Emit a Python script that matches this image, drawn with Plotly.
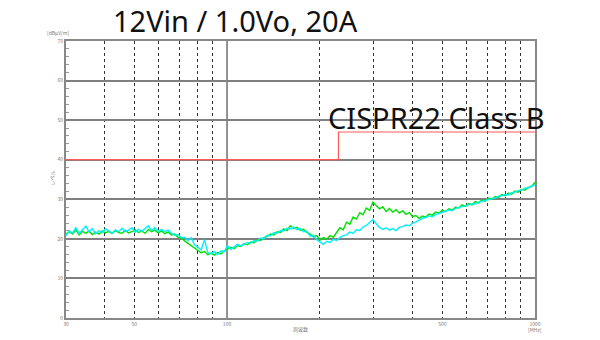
import plotly.graph_objects as go

freq_mhz = [30, 30.8, 31.5, 32.3, 33.1, 33.9, 34.8, 35.6, 36.5, 37.4, 38.4, 39.3, 40.3, 41.3, 42.3, 43.4, 44.5,
            45.6, 46.7, 47.9, 49.1, 50.3, 51.6, 52.9, 54.2, 55.5, 56.9, 58.3, 59.8, 61.3, 62.8, 64.4, 66.0, 67.6,
            69.3, 71.1, 72.8, 74.7, 76.5, 78.4, 80.4, 82.4, 84.5, 86.6, 88.7, 91.0, 93.2, 95.6, 98.0, 100.4, 102.9,
            105.5, 108.1, 110.8, 113.6, 116.5, 119.4, 122.3, 125.4, 128.6, 131.8, 135.1, 138.4, 141.9, 145.4, 149.1,
            152.8, 156.6, 160.5, 164.6, 168.7, 172.9, 177.2, 181.6, 186.2, 190.8, 195.6, 200.5, 205.5, 210.7, 216.0,
            221.4, 226.9, 232.5, 238.4, 244.3, 250.4, 256.7, 263.1, 269.7, 276.4, 283.3, 290.4, 297.7, 305.1, 312.7,
            320.6, 328.6, 336.8, 345.2, 353.8, 362.7, 371.8, 381.1, 390.6, 400.3, 410.4, 420.6, 431.1, 441.9, 453.0,
            464.3, 475.9, 487.8, 500.0, 512.5, 525.3, 538.4, 551.9, 565.7, 579.8, 594.3, 609.2, 624.4, 640.0, 656.0,
            672.4, 689.3, 706.5, 724.2, 742.3, 760.8, 779.8, 799.3, 819.3, 839.8, 860.8, 882.3, 904.4, 927.0, 950.2,
            973.9, 1000]

green_dbuv = [21.3, 21.8, 21.2, 22.3, 21.0, 21.9, 21.4, 22.0, 21.1, 21.7, 21.2, 22.0, 21.5, 21.9, 21.3, 22.1, 21.6,
              21.4, 22.2, 21.5, 21.8, 22.3, 21.6, 22.0, 21.4, 22.4, 21.8, 22.2, 21.5, 22.0, 21.3, 21.7, 21.0, 21.2,
              20.4, 20.2, 19.5, 18.9, 18.3, 17.8, 17.2, 16.5, 16.8, 16.0, 16.4, 15.9, 16.6, 16.2, 17.0, 17.4, 17.9,
              17.5, 18.3, 18.1, 18.8, 18.5, 19.2, 19.0, 19.8, 19.6, 20.3, 20.6, 21.2, 21.0, 21.8, 21.6,
              22.5, 22.1, 23.3, 22.6, 22.9, 22.2, 22.4, 21.6, 21.2, 20.5, 20.8, 19.7, 20.3, 19.9, 20.8,
              20.4, 21.6, 22.8, 22.3, 24.2, 23.7, 25.5, 25.0, 26.6, 26.1, 27.8, 27.2, 29.3, 28.4, 27.6,
              28.1, 26.9, 27.7, 26.8, 27.4, 26.5, 27.1, 26.2, 26.7, 25.6, 25.9, 25.2, 25.8, 25.5, 26.3,
              26.0, 26.8, 26.5, 27.2, 26.9, 27.6, 27.3, 28.0, 27.8, 28.6, 28.2, 28.9, 28.6, 29.4, 29.1,
              29.8, 29.5, 30.3, 30.0, 30.7, 30.4, 31.2, 30.9, 31.6, 31.3, 32.1, 31.8, 32.5, 32.3, 33.0,
              33.2, 34.3]

cyan_dbuv = [20.8, 22.0, 21.5, 22.8, 21.4, 22.3, 23.2, 21.8, 22.6, 21.3, 22.1, 21.6, 22.5, 22.0, 21.4, 22.3, 21.8,
             22.7, 21.9, 22.2, 22.8, 21.7, 22.4, 21.9, 22.6, 23.3, 22.1, 22.8, 21.9, 22.4, 21.8, 22.2, 21.4, 20.9,
             21.1, 20.3, 20.4, 19.6, 20.3, 18.5, 17.9, 17.2, 19.8, 16.6, 16.2, 16.8, 16.0, 17.0, 16.8, 18.3, 17.3,
             18.0, 18.6, 18.2, 18.7, 19.1, 18.9, 19.6, 19.4, 20.2, 20.0, 20.9, 20.8, 21.6, 21.4, 22.1,
             22.0, 22.7, 22.5, 23.0, 22.3, 22.6, 21.8, 21.9, 20.7, 20.9, 19.8, 19.2, 18.6, 19.4, 19.1,
             19.9, 19.6, 20.3, 20.8, 21.0, 21.7, 21.4, 22.3, 22.1, 23.0, 23.4, 24.2, 24.9, 23.8, 22.9,
             22.4, 22.8, 22.2, 22.6, 22.1, 22.9, 23.1, 23.5, 23.3, 24.0, 24.3, 24.8, 25.2, 25.4, 25.8,
             25.6, 26.2, 26.4, 26.8, 27.0, 27.3, 27.1, 27.7, 27.9, 28.1, 28.4, 28.6, 28.9, 28.8, 29.3,
             29.5, 29.6, 29.9, 30.2, 30.3, 30.8, 30.9, 31.2, 31.1, 31.7, 31.8, 32.2, 32.3, 32.8, 32.9,
             33.4, 33.6]

limit_freq = [30, 230, 230, 1000]
limit_level = [40, 40, 47, 47]

x_tick_vals = [30, 50, 100, 500, 1000]
x_tick_text = ["30", "50", "100", "500", "1000"]
x_minor_vals = [40, 50, 60, 70, 80, 90, 200, 300, 400, 500, 600, 700, 800, 900]

fig = go.Figure()
fig.add_trace(go.Scatter(x=freq_mhz, y=green_dbuv, mode="lines",
                         line=dict(color="#00e000", width=1.4), showlegend=False))
fig.add_trace(go.Scatter(x=freq_mhz, y=cyan_dbuv, mode="lines",
                         line=dict(color="#00f0ff", width=1.4), showlegend=False))
fig.add_trace(go.Scatter(x=limit_freq, y=limit_level, mode="lines",
                         line=dict(color="#ff5a5a", width=1.2), showlegend=False))

fig.add_shape(type="line", xref="x", yref="paper", x0=100, x1=100, y0=0, y1=1,
              line=dict(color="#777777", width=1.6), layer="below")

small = dict(family="Noto Sans CJK JP", size=5, color="#777777")

fig.update_layout(
    width=600, height=340,
    margin=dict(l=66, r=65, t=41, b=22),
    paper_bgcolor="white", plot_bgcolor="white",
    font=dict(family="Noto Sans"),
    xaxis=dict(type="log", range=[1.4771, 3.0], tickmode="array", tickvals=x_tick_vals,
               ticktext=x_tick_text, showgrid=False, showline=True, linecolor="#888888",
               linewidth=2, mirror=True, ticks="", tickfont=small, zeroline=False,
               minor=dict(tickmode="array", tickvals=x_minor_vals, showgrid=True,
                          gridcolor="#333333", griddash="dot", gridwidth=1, ticks="")),
    yaxis=dict(range=[0, 70], dtick=10, showgrid=True, gridcolor="#808080", gridwidth=1.5,
               showline=True, linecolor="#888888", linewidth=2, mirror=True, ticks="",
               tickfont=small, zeroline=False,
               minor=dict(dtick=2, ticks="inside", ticklen=3, tickcolor="#999999", showgrid=False)),
)

fig.add_annotation(text="12Vin / 1.0Vo, 20A", xref="paper", yref="paper", x=0.096, y=1.075,
                   xanchor="left", yanchor="middle", showarrow=False,
                   font=dict(family="Noto Sans", size=29, color="#111111"))
fig.add_annotation(text="CISPR22 Class B", xref="paper", yref="paper", x=0.555, y=0.725,
                   xanchor="left", yanchor="middle", showarrow=False,
                   font=dict(family="Noto Sans", size=29, color="#111111"))
fig.add_annotation(text="[dBμV/m]", xref="paper", yref="paper", x=-0.016, y=1.032,
                   xanchor="center", yanchor="middle", showarrow=False, font=small)
fig.add_annotation(text="レベル", xref="paper", yref="paper", x=-0.031, y=0.505, textangle=-90,
                   xanchor="center", yanchor="middle", showarrow=False, font=small)
fig.add_annotation(text="周波数", xref="paper", yref="paper", x=0.5, y=-0.041,
                   xanchor="center", yanchor="middle", showarrow=False, font=small)
fig.add_annotation(text="[MHz]", xref="paper", yref="paper", x=1.0, y=-0.041,
                   xanchor="center", yanchor="middle", showarrow=False, font=small)

fig.write_html("out.html")
